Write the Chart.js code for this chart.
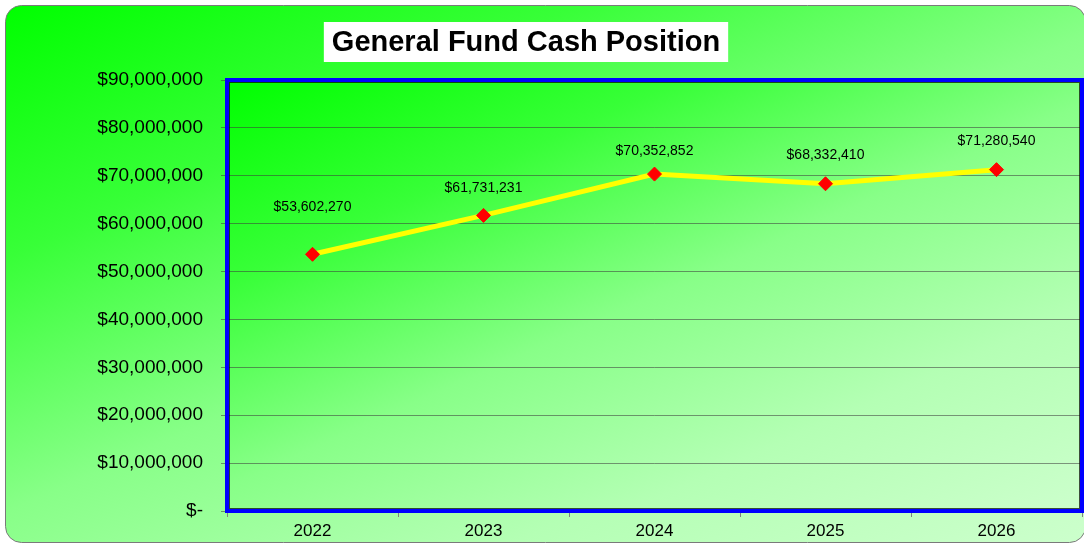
<!DOCTYPE html>
<html>
<head>
<meta charset="utf-8">
<script src="https://cdn.jsdelivr.net/npm/chart.js@4.4.1/dist/chart.umd.min.js"></script>
<style>
  html, body { margin: 0; padding: 0; background: #fff; }
  #wrap { width: 1084px; height: 544px; position: relative; }
</style>
</head>
<body>
<div id="wrap"><canvas id="cashChart" width="1084" height="544"></canvas></div>
<script>
// Chart data
const years = ['2022', '2023', '2024', '2025', '2026'];
const cashPosition = [53602270, 61731231, 70352852, 68332410, 71280540];
const yTicks = [0, 10000000, 20000000, 30000000, 40000000, 50000000, 60000000, 70000000, 80000000, 90000000];

// how far each value label sits above its marker (style only)
const labelLift = [40, 20, 16, 22, 22];

const money = v => v === 0 ? '$-' : '$' + v.toLocaleString('en-US');

// diagonal green fill over a box, bright top-left to pale bottom-right
function greenFill(ctx, x, y, w, h) {
    const a = 0.47, b = 0.53;
    const k = 1 / (a * a / (w * w) + b * b / (h * h));
    const g = ctx.createLinearGradient(x, y, x + k * a / w, y + k * b / h);
    g.addColorStop(0, '#00ff00');
    g.addColorStop(0.25, '#38ff38');
    g.addColorStop(0.5, '#88ff88');
    g.addColorStop(0.75, '#b4ffb4');
    g.addColorStop(1, '#ccffcc');
    return g;
}

// outer rounded panel + plot area gradient
const backdrop = {
    id: 'backdrop',
    beforeDraw(chart) {
        const ctx = chart.ctx;
        const { left, top, right, bottom } = chart.chartArea;
        ctx.save();
        ctx.beginPath();
        ctx.roundRect(5.5, 5.5, 1080, 537, 16);
        ctx.fillStyle = greenFill(ctx, 5, 5, 1080, 538);
        ctx.fill();
        ctx.strokeStyle = '#7a7a7a';
        ctx.lineWidth = 1;
        ctx.stroke();
        ctx.fillStyle = greenFill(ctx, left, top, right - left, bottom - top);
        ctx.fillRect(left, top, right - left, bottom - top);
        ctx.restore();
    },
    afterDraw(chart) {
        const ctx = chart.ctx;
        const { left, top, right, bottom } = chart.chartArea;
        ctx.save();
        ctx.strokeStyle = '#0000ff';
        ctx.lineWidth = 4;
        ctx.strokeRect(left, top, right - left, bottom - top);
        ctx.strokeStyle = 'rgba(0,0,0,0.7)';
        ctx.lineWidth = 1;
        ctx.strokeRect(left + 2.5, top + 2.5, right - left - 5, bottom - top - 5);
        // title box
        const title = 'General Fund Cash Position';
        ctx.font = 'bold 29px "Liberation Sans", Arial, sans-serif';
        const w = ctx.measureText(title).width;
        const cx = 526;
        ctx.fillStyle = '#ffffff';
        ctx.fillRect(cx - w / 2 - 8, 22, w + 16, 40);
        ctx.fillStyle = '#000000';
        ctx.textAlign = 'center';
        ctx.textBaseline = 'middle';
        ctx.fillText(title, cx, 43);
        ctx.restore();
    }
};

// value labels above the markers
const valueLabels = {
    id: 'valueLabels',
    afterDatasetsDraw(chart) {
        const ctx = chart.ctx;
        const meta = chart.getDatasetMeta(0);
        ctx.save();
        ctx.font = '14px "Liberation Sans", Arial, sans-serif';
        ctx.fillStyle = '#000000';
        ctx.textAlign = 'center';
        ctx.textBaseline = 'bottom';
        meta.data.forEach((pt, i) => {
            ctx.fillText(money(cashPosition[i]), pt.x, pt.y - labelLift[i]);
        });
        ctx.restore();
    }
};

new Chart(document.getElementById('cashChart'), {
    type: 'line',
    data: {
        labels: years,
        datasets: [{
            data: cashPosition,
            borderColor: '#ffff00',
            borderWidth: 5,
            tension: 0,
            pointStyle: 'rectRot',
            pointRadius: 7,
            pointBackgroundColor: '#ff0000',
            pointBorderColor: '#ff0000',
            pointBorderWidth: 1
        }]
    },
    options: {
        responsive: false,
        animation: false,
        layout: { autoPadding: false, padding: { top: 80, right: 2, left: 0, bottom: 0 } },
        plugins: {
            legend: { display: false },
            title: { display: false },
            tooltip: { enabled: false }
        },
        scales: {
            x: {
                offset: true,
                grid: { drawOnChartArea: false, offset: true, color: '#808080', tickLength: 6 },
                border: { display: false },
                ticks: { color: '#000', font: { size: 17, family: '"Liberation Sans", Arial, sans-serif' }, padding: 4 },
                afterFit: s => { s.height = 33; }
            },
            y: {
                min: 0,
                max: 90000000,
                afterBuildTicks: s => { s.ticks = yTicks.map(v => ({ value: v })); },
                grid: { color: 'rgba(60,60,60,0.55)', tickLength: 6 },
                border: { display: false },
                ticks: {
                    color: '#000',
                    font: { size: 19, family: '"Liberation Sans", Arial, sans-serif' },
                    padding: 18,
                    callback: v => money(v)
                },
                afterFit: s => { s.width = 227; }
            }
        }
    },
    plugins: [backdrop, valueLabels]
});
</script>
</body>
</html>
